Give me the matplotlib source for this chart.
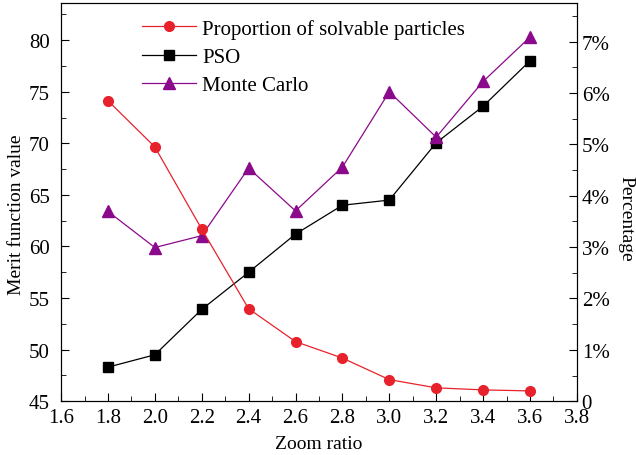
import matplotlib
matplotlib.use("Agg")
import matplotlib.pyplot as plt
from matplotlib.ticker import MultipleLocator, FuncFormatter

# data
zoom = [1.8, 2.0, 2.2, 2.4, 2.6, 2.8, 3.0, 3.2, 3.4, 3.6]
proportion = [5.85, 4.95, 3.35, 1.80, 1.16, 0.84, 0.42, 0.26, 0.22, 0.20]  # percent
pso = [48.3, 49.5, 53.9, 57.5, 61.2, 64.0, 64.5, 70.05, 73.6, 78.0]
monte_carlo = [63.4, 59.9, 61.05, 67.6, 63.45, 67.7, 75.0, 70.6, 76.0, 80.3]

plt.rcParams['font.family'] = ['Liberation Serif', 'DejaVu Serif']
plt.rcParams['font.size'] = 14

fig = plt.figure(figsize=(6.36, 4.56), dpi=100)
ax = fig.add_axes([0.096, 0.118, 0.811, 0.873])
ax2 = ax.twinx()

l_pso, = ax.plot(zoom, pso, color='black', marker='s', markersize=6.5, lw=0.9, label='PSO')
l_mc, = ax.plot(zoom, monte_carlo, color='#8b0a8b', marker='^', markersize=8, lw=0.9, label='Monte Carlo')
l_red, = ax2.plot(zoom, proportion, color='#e8222c', marker='o', markersize=7, lw=0.9,
                  label='Proportion of solvable particles')

ax.set_xlim(1.6, 3.8)
ax.set_ylim(45, 83.6)
ax2.set_ylim(0, 7.75)

ax.xaxis.set_major_locator(MultipleLocator(0.2))
ax.xaxis.set_minor_locator(MultipleLocator(0.1))
ax.xaxis.set_major_formatter(FuncFormatter(lambda v, p: f"{v:.1f}"))
ax.yaxis.set_major_locator(MultipleLocator(5))
ax.yaxis.set_minor_locator(MultipleLocator(2.5))
ax2.yaxis.set_major_locator(MultipleLocator(1))
ax2.yaxis.set_minor_locator(MultipleLocator(0.5))
ax2.yaxis.set_major_formatter(FuncFormatter(lambda v, p: "0" if v == 0 else f"{v:.0f}%"))

for a in (ax, ax2):
    a.tick_params(which='both', direction='in', top=False, labelsize=15)
    a.tick_params(which='major', length=6)
    a.tick_params(which='minor', length=3.5)
ax.tick_params(axis='y', right=False, pad=8)
ax.tick_params(axis='x', pad=5)

ax.set_xlabel('Zoom ratio', fontsize=14)
ax.set_ylabel('Merit function value', fontsize=14)
ax2.set_ylabel('Percentage', rotation=270, fontsize=14)
ax.xaxis.set_label_coords(0.5, -0.085)
ax.yaxis.set_label_coords(-0.07, 0.47)
ax2.yaxis.set_label_coords(1.112, 0.46)

ax2.legend(handles=[l_red, l_pso, l_mc], loc='upper left', bbox_to_anchor=(0.13, 0.995),
           frameon=False, fontsize=15, handlelength=2.6, handletextpad=0.3,
           labelspacing=0.42, borderaxespad=0.25)

fig.savefig("out.png", dpi=100)
